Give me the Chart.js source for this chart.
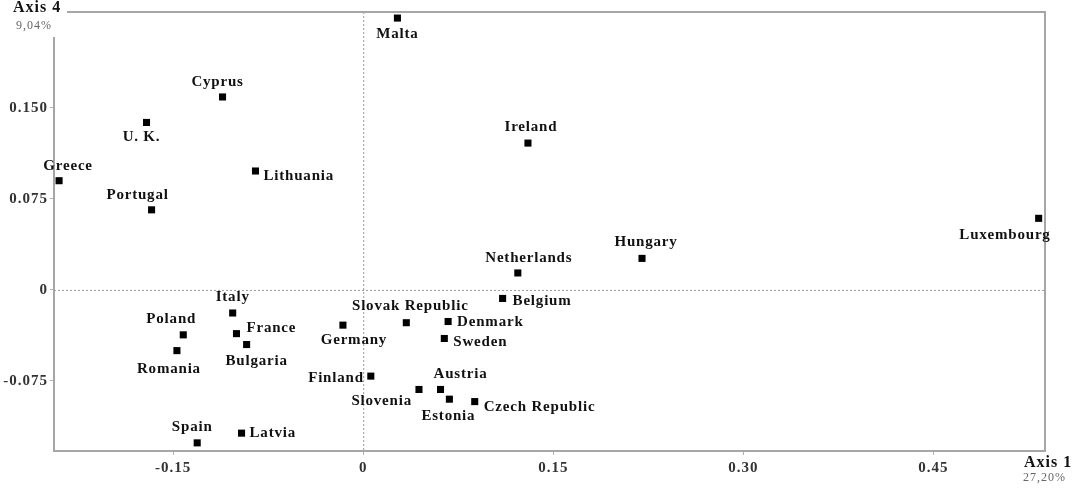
<!DOCTYPE html>
<html>
<head>
<meta charset="utf-8">
<script src="https://cdn.jsdelivr.net/npm/chart.js@4/dist/chart.umd.min.js"></script>
<style>
  html, body { margin: 0; padding: 0; background: #fff; }
  #wrap { width: 1083px; height: 492px; }
</style>
</head>
<body>
<div id="wrap"><canvas id="plane"></canvas></div>
<script>
// countries and their coordinates on axis 1 (x) and axis 4 (y)
var countries = ['Malta', 'Cyprus', 'U. K.', 'Greece', 'Portugal', 'Lithuania', 'Ireland', 'Hungary',
  'Luxembourg', 'Netherlands', 'Belgium', 'Slovak Republic', 'Germany', 'Denmark', 'Sweden',
  'Finland', 'Slovenia', 'Austria', 'Estonia', 'Czech Republic', 'Italy', 'France', 'Bulgaria',
  'Poland', 'Romania', 'Spain', 'Latvia'];
var axis1 = [0.027, -0.111, -0.171, -0.240, -0.167, -0.085, 0.130, 0.220,
  0.533, 0.122, 0.110, 0.034, -0.016, 0.067, 0.064,
  0.006, 0.044, 0.061, 0.068, 0.088, -0.103, -0.100, -0.092,
  -0.142, -0.147, -0.131, -0.096];
var axis4 = [0.224, 0.159, 0.138, 0.090, 0.066, 0.098, 0.121, 0.026,
  0.059, 0.014, -0.007, -0.027, -0.029, -0.026, -0.040,
  -0.071, -0.082, -0.082, -0.090, -0.092, -0.019, -0.036, -0.045,
  -0.037, -0.050, -0.126, -0.118];

var xTicks = [-0.15, 0, 0.15, 0.30, 0.45];
var xTickLabels = ['-0.15', '0', '0.15', '0.30', '0.45'];
var yTicks = [0.150, 0.075, 0, -0.075];
var yTickLabels = ['0.150', '0.075', '0', '-0.075'];

// where each name sits relative to its square: dx, dy, alignment
var labelPlace = {
  'Malta': [0, 16, 'center'], 'Cyprus': [-5, -15, 'center'], 'U. K.': [-5, 15, 'center'],
  'Greece': [9, -15, 'center'], 'Portugal': [-14, -15, 'center'], 'Lithuania': [8, 5, 'left'],
  'Ireland': [3, -16, 'center'], 'Hungary': [4, -16, 'center'], 'Luxembourg': [12, 17, 'right'],
  'Netherlands': [11, -15, 'center'], 'Belgium': [10, 3, 'left'], 'Slovak Republic': [4, -17, 'center'],
  'Germany': [11, 15, 'center'], 'Denmark': [9, 1, 'left'], 'Sweden': [9, 4, 'left'],
  'Finland': [-7, 2, 'right'], 'Slovenia': [-7, 12, 'right'], 'Austria': [20, -15, 'center'],
  'Estonia': [-1, 17, 'center'], 'Czech Republic': [9, 6, 'left'], 'Italy': [0, -16, 'center'],
  'France': [10, -6, 'left'], 'Bulgaria': [10, 17, 'center'], 'Poland': [-12, -16, 'center'],
  'Romania': [-8, 18, 'center'], 'Spain': [-5, -16, 'center'], 'Latvia': [8, 0, 'left']
};

var serif = '"Liberation Serif", "DejaVu Serif", serif';

var framePlugin = {
  id: 'frame',
  beforeDraw: function (chart) {
    // the scanned original has loosely spaced type
    chart.ctx.letterSpacing = '1px';
  },
  beforeDatasetsDraw: function (chart) {
    var ctx = chart.ctx, a = chart.chartArea;
    var x0 = chart.scales.x.getPixelForValue(0);
    var y0 = chart.scales.y.getPixelForValue(0);
    ctx.save();
    // dotted zero lines
    ctx.strokeStyle = '#9a9a9a';
    ctx.lineWidth = 1;
    ctx.setLineDash([2, 2]);
    ctx.beginPath();
    ctx.moveTo(a.left, y0 + 0.5); ctx.lineTo(a.right, y0 + 0.5);
    ctx.moveTo(x0 + 0.5, a.top); ctx.lineTo(x0 + 0.5, a.bottom);
    ctx.stroke();
    // frame, open at the top left corner for the axis title
    ctx.setLineDash([]);
    ctx.strokeStyle = '#a6a6a6';
    ctx.lineWidth = 2;
    ctx.beginPath();
    ctx.moveTo(67, a.top); ctx.lineTo(a.right, a.top); ctx.lineTo(a.right, a.bottom);
    ctx.lineTo(a.left, a.bottom); ctx.lineTo(a.left, 37);
    ctx.stroke();
    ctx.restore();
  },
  afterDraw: function (chart) {
    var ctx = chart.ctx;
    ctx.save();
    ctx.fillStyle = '#111';
    ctx.textBaseline = 'middle';
    ctx.font = 'bold 16px ' + serif;
    ctx.textAlign = 'left';
    ctx.fillText('Axis 4', 13, 8);
    ctx.fillText('Axis 1', 1024, 463);
    ctx.fillStyle = '#666';
    ctx.font = '12px ' + serif;
    ctx.fillText('9,04%', 16, 26);
    ctx.fillText('27,20%', 1023, 478);
    ctx.restore();
    ctx.letterSpacing = '0px';
  }
};

var namesPlugin = {
  id: 'names',
  afterDatasetsDraw: function (chart) {
    var ctx = chart.ctx;
    var meta = chart.getDatasetMeta(0);
    ctx.save();
    ctx.letterSpacing = '0.8px';
    ctx.fillStyle = '#111';
    ctx.font = 'bold 15px ' + serif;
    ctx.textBaseline = 'middle';
    meta.data.forEach(function (pt, i) {
      var name = countries[i];
      var p = labelPlace[name] || [0, -15, 'center'];
      ctx.textAlign = p[2];
      ctx.fillText(name, pt.x + p[0], pt.y + p[1]);
    });
    ctx.restore();
  }
};

var plane = document.getElementById('plane').getContext('2d');
var plane_chart = new Chart(plane, {
  type: 'scatter',
  data: {
    datasets: [{
      label: 'Countries',
      data: countries.map(function (c, i) { return { x: axis1[i], y: axis4[i] }; }),
      backgroundColor: '#000',
      borderWidth: 0,
      pointStyle: 'rect',
      pointRadius: 5,
      pointHoverRadius: 5,
      clip: false
    }]
  },
  options: {
    responsive: true,
    maintainAspectRatio: false,
    animation: false,
    layout: { padding: { top: 12, right: 38, left: 0, bottom: 0 } },
    plugins: { legend: { display: false }, tooltip: { enabled: false } },
    scales: {
      x: {
        type: 'linear',
        min: -0.244,
        max: 0.538,
        afterBuildTicks: function (s) { s.ticks = xTicks.map(function (v) { return { value: v }; }); },
        afterFit: function (s) { s.height = 41; },
        grid: { drawOnChartArea: false, drawTicks: true, tickLength: 4, tickColor: '#b0b0b0' },
        border: { display: false },
        ticks: {
          color: '#333',
          padding: 4,
          font: { family: serif, size: 15, weight: 'bold' },
          callback: function (v) { return xTickLabels[xTicks.indexOf(v)]; }
        }
      },
      y: {
        type: 'linear',
        min: -0.1327,
        max: 0.229,
        afterBuildTicks: function (s) { s.ticks = yTicks.map(function (v) { return { value: v }; }); },
        afterFit: function (s) { s.width = 54; },
        grid: { drawOnChartArea: false, drawTicks: true, tickLength: 4, tickColor: '#b0b0b0' },
        border: { display: false },
        ticks: {
          color: '#333',
          padding: 2,
          font: { family: serif, size: 15, weight: 'bold' },
          callback: function (v) { return yTickLabels[yTicks.indexOf(v)]; }
        }
      }
    }
  },
  plugins: [framePlugin, namesPlugin]
});
</script>
</body>
</html>
